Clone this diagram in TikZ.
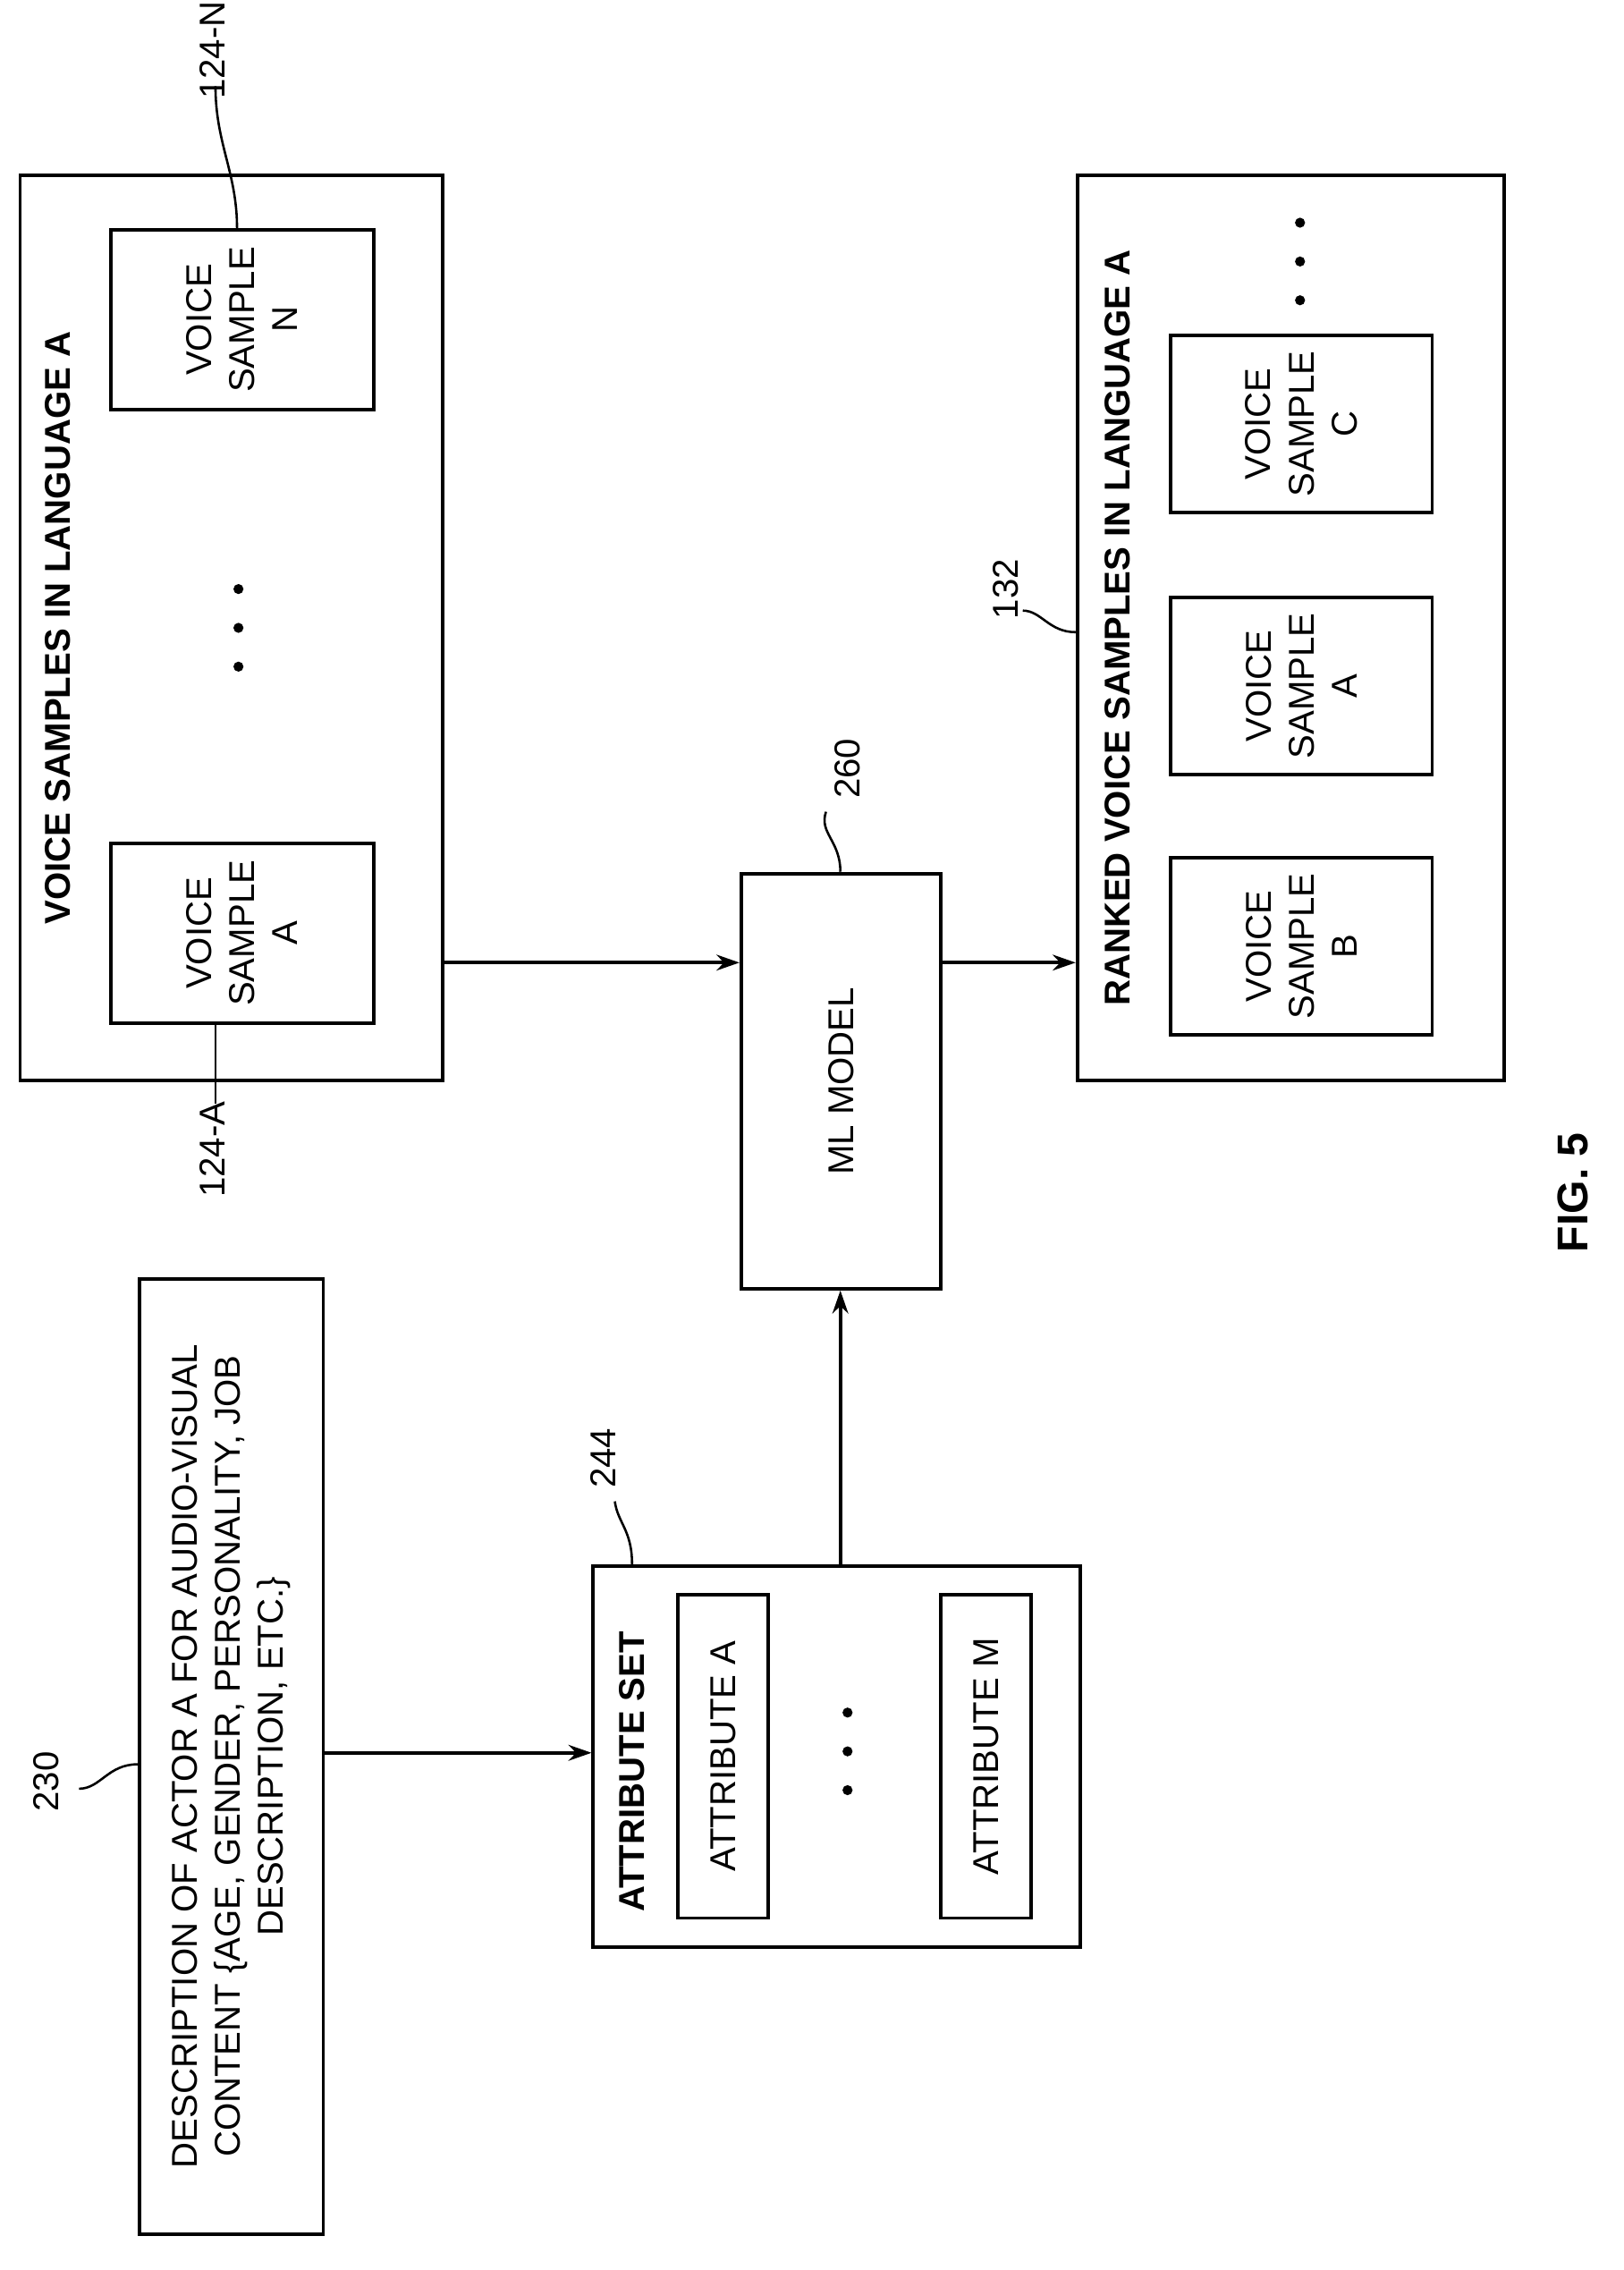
\documentclass[tikz,border=0pt]{standalone}
\usepackage{fontspec}
\setmainfont{Liberation Sans}
\usetikzlibrary{arrows.meta}
\begin{document}
\begin{tikzpicture}[x=1pt,y=-1pt,line width=2.4pt,
  box/.style={draw,minimum width=#1,inner sep=0pt},
  txt/.style={rotate=90,font=\fontsize{25}{30}\selectfont,align=center,inner sep=0pt},
  btxt/.style={txt,font=\fontsize{25}{30}\selectfont\bfseries},
  arr/.style={-{Stealth[length=16pt,width=11pt]}},
  dot/.style={circle,fill,inner sep=0pt,minimum size=7pt}]
\useasboundingbox (0,0) rectangle (1130,1580);
% voice samples
\node[box=294pt,minimum height=630pt] (vs) at (161,437) {};
\node[btxt] (vst) at (40,437) {VOICE SAMPLES IN LANGUAGE A};
\node[box=183pt,minimum height=125pt] (vsA) at (168.5,649.5) {};
\node[txt] (vsAt) at (168.5,649.5) {VOICE\\SAMPLE\\A};
\node[box=183pt,minimum height=125pt] (vsN) at (168.5,222.5) {};
\node[txt] (vsNt) at (168.5,222.5) {VOICE\\SAMPLE\\N};
\node[dot] (d1) at (166,410) {}; \node[dot] (d2) at (166,437) {}; \node[dot] (d3) at (166,464) {};
\node[txt] (l124N) at (148,35) {124-N};
\coordinate (cN) at (150,60);
\draw[line width=1.6pt] (vsN.north-|165,0) .. controls (165,120) and (150,100) .. (cN);
\node[txt] (l124A) at (148,800) {124-A};
\coordinate (cA) at (150,768);
\draw[line width=1.6pt] (vsA.south-|150,0) .. controls (150,735) and (150,740) .. (cA);
% ML
\node[box=139pt,minimum height=289pt] (ml) at (585.5,752.5) {};
\node[txt] (mlt) at (585.5,752.5) {ML MODEL};
\node[txt] (l260) at (590,535) {260};
\coordinate (c260) at (575,565);
\draw[line width=1.6pt] (ml.north-|585,0) .. controls (585,585) and (570,580) .. (c260);
% ranked
\node[box=297pt,minimum height=630pt] (rk) at (898.5,437) {};
\node[btxt] (rkt) at (778,437) {RANKED VOICE SAMPLES IN LANGUAGE A};
\node[box=182pt,minimum height=123pt] (rB) at (906,658.5) {};
\node[txt] (rBt) at (906,658.5) {VOICE\\SAMPLE\\B};
\node[box=182pt,minimum height=123pt] (rA) at (906,477.5) {};
\node[txt] (rAt) at (906,477.5) {VOICE\\SAMPLE\\A};
\node[box=182pt,minimum height=123pt] (rC) at (906,295) {};
\node[txt] (rCt) at (906,295) {VOICE\\SAMPLE\\C};
\node[dot] (e1) at (905,155) {}; \node[dot] (e2) at (905,182) {}; \node[dot] (e3) at (905,209) {};
\node[txt] (l132) at (700,410) {132};
\coordinate (c132) at (712,425);
\draw[line width=1.6pt] (rk.west|-0,440) .. controls (730,440) and (725,425) .. (c132);
% description
\node[box=128pt,minimum height=665pt] (desc) at (161,1222.5) {};
\node[txt] (desct) at (161,1222.5) {DESCRIPTION OF ACTOR A FOR AUDIO-VISUAL\\CONTENT \{AGE, GENDER, PERSONALITY, JOB\\DESCRIPTION, ETC.\}};
\node[txt] (l230) at (32,1240) {230};
\coordinate (c230) at (55,1245);
\draw[line width=1.6pt] (desc.west|-0,1228) .. controls (75,1228) and (70,1245) .. (c230);
% attribute set
\node[box=339pt,minimum height=265pt] (att) at (582.5,1222.5) {};
\node[btxt,anchor=west] (attt) at (440,1332) {ATTRIBUTE SET};
\node[box=63pt,minimum height=225pt] (aA) at (503.5,1222.5) {};
\node[txt] (aAt) at (503.5,1222.5) {ATTRIBUTE A};
\node[box=63pt,minimum height=225pt] (aM) at (686.5,1222.5) {};
\node[txt] (aMt) at (686.5,1222.5) {ATTRIBUTE M};
\node[dot] (f1) at (590,1192) {}; \node[dot] (f2) at (590,1219) {}; \node[dot] (f3) at (590,1246) {};
\node[txt] (l244) at (420,1015) {244};
\coordinate (c244) at (428,1045);
\draw[line width=1.6pt] (att.north-|440,0) .. controls (440,1065) and (430,1060) .. (c244);
% arrows
\draw[arr] (vs.east|-0,670) -- (ml.west|-0,670);
\draw[arr] (ml.east|-0,670) -- (rk.west|-0,670);
\draw[arr] (desc.east|-0,1220) -- (att.west|-0,1220);
\draw[arr] (att.north-|585,0) -- (ml.south-|585,0);
\node[btxt,font=\fontsize{30}{36}\selectfont\bfseries] (fig) at (1095,830) {FIG. 5};
\end{tikzpicture}
\end{document}
